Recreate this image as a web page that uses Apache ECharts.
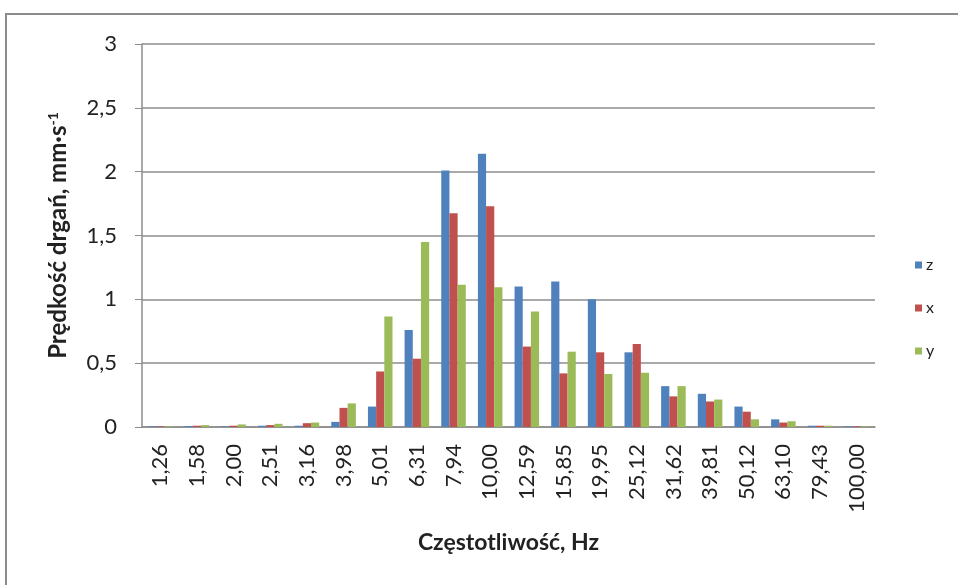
<!DOCTYPE html>
<html lang="pl">
<head>
    <meta charset="UTF-8">
    <title>Prędkość drgań</title>
    <script src="https://cdn.jsdelivr.net/npm/echarts@6/dist/echarts.min.js"></script>
    <style>
        html, body { margin: 0; padding: 0; background: #fff; }
        #main { width: 958px; height: 585px; }
    </style>
</head>
<body>
<div id="main"></div>
<script type="text/javascript">
    // pasma tercjowe, Hz
    var categories = ['1,26', '1,58', '2,00', '2,51', '3,16', '3,98', '5,01', '6,31', '7,94', '10,00',
        '12,59', '15,85', '19,95', '25,12', '31,62', '39,81', '50,12', '63,10', '79,43', '100,00'];
    var zValues = [0.005, 0.008, 0.005, 0.01, 0.01, 0.04, 0.16, 0.76, 2.01, 2.14,
        1.10, 1.14, 1.00, 0.585, 0.32, 0.26, 0.16, 0.06, 0.01, 0.005];
    var xValues = [0.005, 0.01, 0.01, 0.015, 0.03, 0.15, 0.435, 0.535, 1.675, 1.73,
        0.63, 0.42, 0.585, 0.65, 0.24, 0.20, 0.12, 0.035, 0.01, 0.005];
    var yValues = [0.005, 0.015, 0.02, 0.025, 0.035, 0.185, 0.865, 1.45, 1.115, 1.095,
        0.905, 0.59, 0.415, 0.425, 0.32, 0.215, 0.06, 0.045, 0.01, 0.005];
    var seriesNames = ['z', 'x', 'y'];
    var colors = ['#4F81BD', '#C0504D', '#9BBB59'];

    var font = 'Lato, "Open Sans", sans-serif';
    var gray = '#8c8c8c';

    var myChart = echarts.init(document.getElementById('main'));

    var option = {
        backgroundColor: '#fff',
        color: colors,
        animation: false,
        graphic: [{
            type: 'rect',
            shape: {x: 6, y: 14, width: 1000, height: 1000},
            style: {fill: 'none', stroke: gray, lineWidth: 2}
        }],
        legend: {
            orient: 'vertical',
            left: 915,
            top: 257,
            padding: 0,
            itemWidth: 7,
            itemHeight: 7,
            itemGap: 27,
            icon: 'rect',
            textStyle: {fontFamily: font, fontSize: 16, color: '#222', padding: [0, 0, 0, -1]},
            data: seriesNames
        },
        grid: {left: 142, right: 83, top: 44, bottom: 158},
        xAxis: {
            type: 'category',
            data: categories,
            name: 'Częstotliwość, Hz',
            nameLocation: 'middle',
            nameGap: 104,
            nameTextStyle: {fontFamily: font, fontSize: 23, fontWeight: 'bold', color: '#222'},
            axisLine: {lineStyle: {color: gray, width: 1.5}},
            axisTick: {length: 6, lineStyle: {color: gray}},
            axisLabel: {
                rotate: 90, margin: 17, interval: 0,
                fontFamily: font, fontSize: 22, color: '#222'
            }
        },
        yAxis: {
            type: 'value',
            min: 0,
            max: 3,
            interval: 0.5,
            name: 'Prędkość drgań, mm·s{sup|-1}',
            nameLocation: 'middle',
            nameGap: 72,
            nameTextStyle: {
                fontFamily: font, fontSize: 24, fontWeight: 'bold', color: '#222',
                rich: {sup: {fontFamily: font, fontSize: 14, fontWeight: 'bold', color: '#222', verticalAlign: 'top', padding: [0, 0, 10, 0]}}
            },
            axisLine: {show: true, lineStyle: {color: gray, width: 1.5}},
            axisTick: {show: true, length: 7, lineStyle: {color: gray}},
            splitLine: {lineStyle: {color: gray, width: 1.5}},
            axisLabel: {
                margin: 25, fontFamily: font, fontSize: 22, color: '#222',
                formatter: function (v) { return String(v).replace('.', ','); }
            }
        },
        series: [
            {name: seriesNames[0], type: 'bar', data: zValues, barGap: 0, barCategoryGap: '33%'},
            {name: seriesNames[1], type: 'bar', data: xValues, barGap: 0, barCategoryGap: '33%'},
            {name: seriesNames[2], type: 'bar', data: yValues, barGap: 0, barCategoryGap: '33%'}
        ]
    };

    myChart.setOption(option);
</script>
</body>
</html>
